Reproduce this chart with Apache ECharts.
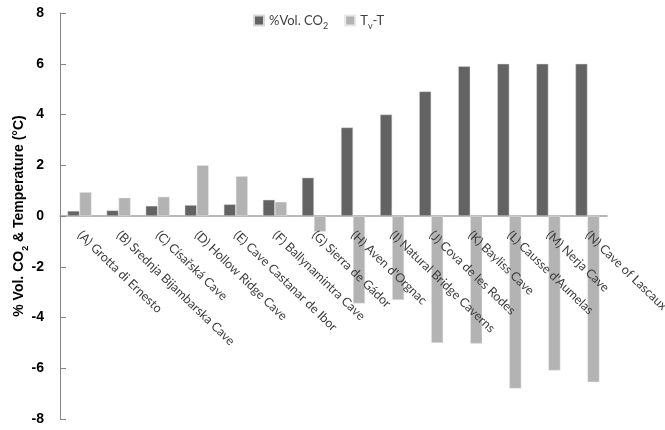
<!DOCTYPE html>
<html><head><meta charset="utf-8">
<script src="https://cdn.jsdelivr.net/npm/echarts@6/dist/echarts.min.js"></script>
<style>html,body{margin:0;padding:0;background:#fff}#c{width:665px;height:430px}</style>
</head><body><div id="c"></div>
<script>
const categories = ["(A) Grotta di Ernesto","(B) Srednja Bijambarska Cave","(C) Císařská Cave","(D) Hollow Ridge Cave","(E) Cave Castanar de Ibor","(F) Ballynamintra Cave","(G) Sierra de Gádor","(H) Aven d'Orgnac","(I) Natural Bridge Caverns","(J) Cova de les Rodes","(K) Bayliss Cave","(L) Causse d'Aumelas","(M) Nerja Cave","(N) Cave of Lascaux"];
const co2 = [0.2, 0.22, 0.4, 0.43, 0.46, 0.64, 1.51, 3.49, 4.0, 4.91, 5.9, 6.0, 6.0, 6.0];
const tvt = [0.94, 0.72, 0.76, 2.0, 1.57, 0.56, -0.62, -3.45, -3.31, -5.0, -5.03, -6.8, -6.09, -6.55];
const yTicks = {min: -8, max: 8, interval: 2};

const chart = echarts.init(document.getElementById('c'), null, {renderer: 'canvas'});
const subRich = {
  n: {fontFamily: 'Lato', fontSize: 13, color: '#404040'},
  s: {fontFamily: 'Lato', fontSize: 9, color: '#404040', verticalAlign: 'bottom', padding: [0,0,-4,0]}
};
chart.setOption({
  animation: false,
  grid: {left: 60, right: 58, top: 13, bottom: 11, containLabel: false, outerBoundsMode: 'none'},
  legend: {
    left: 248, top: 9, itemWidth: 10, itemHeight: 10, itemGap: 16, icon: 'rect',
    data: ['co2', 'tvt'],
    formatter: function (n) { return n === 'co2' ? '{n|%Vol. CO}{s|2}' : '{n|T}{s|v}{n|-T}'; },
    textStyle: {rich: subRich}
  },
  xAxis: [{
    type: 'category', data: categories,
    axisLine: {onZero: true, lineStyle: {color: '#a0a0a0', width: 1.5}},
    axisTick: {show: false},
    axisLabel: {show: false}
  }, {
    type: 'category', data: categories, position: 'bottom', offset: -203, z: 10,
    axisLine: {show: false},
    axisTick: {show: false},
    axisLabel: {rotate: -44, interval: 0, fontFamily: 'Lato', fontSize: 12.5, color: '#404040', margin: 17}
  }],
  yAxis: {
    type: 'value', min: yTicks.min, max: yTicks.max, interval: yTicks.interval,
    splitLine: {show: false},
    axisLine: {show: true, onZero: false, lineStyle: {color: '#868686', width: 1}},
    axisTick: {show: true, inside: true, length: 6, lineStyle: {color: '#868686'}},
    axisLabel: {fontFamily: 'Liberation Sans', fontWeight: 'bold', fontSize: 14, color: '#000', margin: 16},
    name: '{n|% Vol. CO}{s|2}{n| & Temperature (°C)}',
    nameLocation: 'middle', nameGap: 34, nameRotate: 90, nameMoveOverlap: false,
    nameTextStyle: {rich: {
      n: {fontFamily: 'Liberation Sans', fontWeight: 'bold', fontSize: 14, color: '#000'},
      s: {fontFamily: 'Liberation Sans', fontWeight: 'bold', fontSize: 9, color: '#000', verticalAlign: 'bottom', padding: [0,0,-4,0]}
    }}
  },
  series: [
    {name: 'co2', type: 'bar', data: co2, barWidth: 12, barGap: '0%', itemStyle: {color: '#636363', borderColor: '#d8d8d8', borderWidth: 0.5}},
    {name: 'tvt', type: 'bar', data: tvt, barWidth: 12, barGap: '0%', itemStyle: {color: '#b3b3b3', borderColor: '#e8e8e8', borderWidth: 0.5}}
  ]
});
</script></body></html>
